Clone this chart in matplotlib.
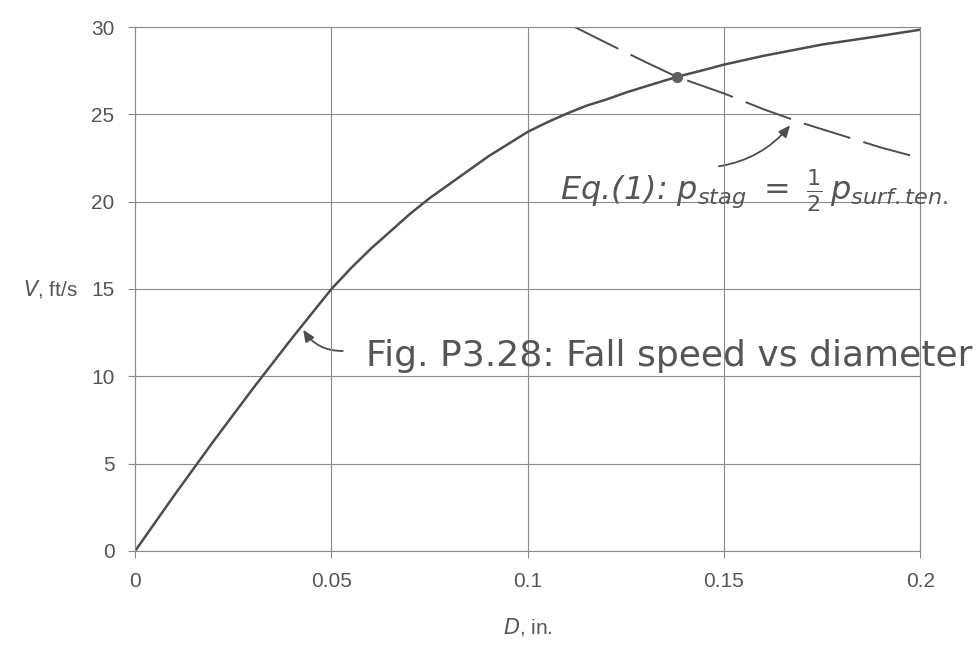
import numpy as np
import matplotlib.pyplot as plt
from matplotlib.patches import FancyArrowPatch

# Fall speed vs diameter (solid curve)
D_fall = [0, 0.01, 0.02, 0.03, 0.04, 0.045, 0.05, 0.055, 0.06, 0.065, 0.07,
          0.075, 0.08, 0.085, 0.09, 0.095, 0.10, 0.105, 0.11, 0.115, 0.12,
          0.125, 0.13, 0.138, 0.145, 0.15, 0.16, 0.175, 0.19, 0.20]
V_fall = [0, 3.2, 6.3, 9.3, 12.2, 13.6, 15.0, 16.2, 17.3, 18.3, 19.3,
          20.2, 21.0, 21.8, 22.6, 23.3, 24.0, 24.55, 25.05, 25.5, 25.85,
          26.25, 26.6, 27.15, 27.55, 27.85, 28.35, 29.0, 29.5, 29.85]

# Eq. (1): p_stag = 1/2 p_surf.ten. (dashed curve)
D_eq = [0.112, 0.12, 0.13, 0.138, 0.15, 0.16, 0.17, 0.18, 0.19, 0.20]
V_eq = [30.0, 29.1, 28.0, 27.15, 26.2, 25.3, 24.5, 23.8, 23.1, 22.5]

# Intersection point
D_cross = [0.138]
V_cross = [27.15]

x_ticks = [0, 0.05, 0.1, 0.15, 0.2]
x_labels = ['0', '0.05', '0.1', '0.15', '0.2']
y_ticks = [0, 5, 10, 15, 20, 25, 30]

ink = '#4d4d4d'
grid_c = '#8a8a8a'
txt_c = '#555555'

fig = plt.figure(figsize=(9.8, 6.45), dpi=100)
ax = fig.add_axes([0.138, 0.146, 0.801, 0.812])

ax.plot(D_fall, V_fall, color=ink, lw=1.8, solid_joinstyle='round')
ax.plot(D_eq, V_eq, color=ink, lw=1.4, dashes=(25, 7))
ax.plot(D_cross, V_cross, 'o', color='#606060', ms=7)

ax.set_xlim(0, 0.2)
ax.set_ylim(0, 30)
ax.set_xticks(x_ticks)
ax.set_xticklabels(x_labels)
ax.set_yticks(y_ticks)
ax.grid(True, color=grid_c, lw=0.8)
for s in ax.spines.values():
    s.set_color(grid_c)
    s.set_linewidth(0.8)
ax.tick_params(direction='out', length=5, color=grid_c, labelcolor=txt_c,
               labelsize=15, pad=10)
for lab in ax.get_xticklabels() + ax.get_yticklabels():
    lab.set_fontfamily('Liberation Sans')

ax.set_xlabel('$\\mathit{D}$, in.', fontsize=15, color=txt_c,
              family='Liberation Sans', labelpad=18)
ax.text(-0.0145, 15, '$\\mathit{V}$, ft/s', fontsize=15, color=txt_c,
        family='Liberation Sans', ha='right', va='center')

# handwritten annotations
plt.rcParams['mathtext.fontset'] = 'dejavusans'
ax.text(0.0589, 10.6, 'Fig. P3.28: Fall speed vs diameter', fontsize=26,
        color=txt_c, family='DejaVu Sans', va='baseline')
ax.text(0.1083, 20.05,
        'Eq.(1): $\\mathit{p}_{stag}\\ =\\ \\frac{1}{2}\\,\\mathit{p}_{surf.ten.}$',
        fontsize=23, color=txt_c, style='italic', family='DejaVu Sans',
        va='baseline')

ax.add_patch(FancyArrowPatch((0.0536, 11.45), (0.0424, 12.8),
                             connectionstyle='arc3,rad=-0.3',
                             arrowstyle='-|>,head_length=7,head_width=3',
                             color=ink, lw=1.3))
ax.add_patch(FancyArrowPatch((0.148, 22.0), (0.1673, 24.5),
                             connectionstyle='arc3,rad=0.2',
                             arrowstyle='-|>,head_length=7,head_width=3',
                             color=ink, lw=1.3))

fig.savefig('out.png', dpi=100, facecolor='white')
